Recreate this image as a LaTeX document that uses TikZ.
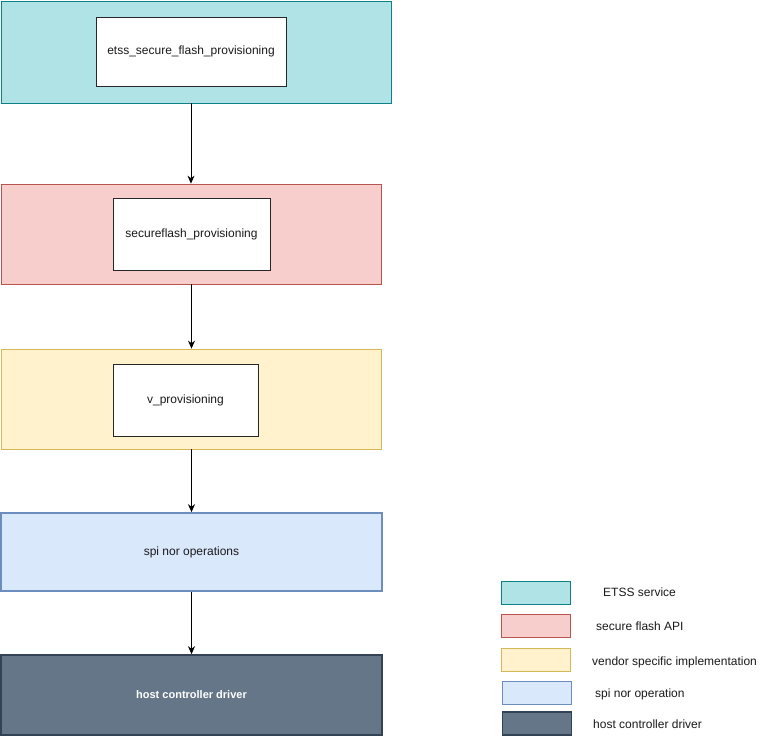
\documentclass[tikz,border=0pt]{standalone}
\usepackage{fontspec}
\setmainfont{Liberation Sans}
\usetikzlibrary{arrows.meta}
\definecolor{tealfill}{HTML}{B0E3E6}
\definecolor{tealline}{HTML}{0E8088}
\definecolor{redfill}{HTML}{F8CECC}
\definecolor{redline}{HTML}{B85450}
\definecolor{yelfill}{HTML}{FFF2CC}
\definecolor{yelline}{HTML}{D6B656}
\definecolor{bluefill}{HTML}{DAE8FC}
\definecolor{blueline}{HTML}{6C8EBF}
\definecolor{darkfill}{HTML}{647687}
\definecolor{darkline}{HTML}{314354}
\definecolor{txt}{HTML}{1A1A1A}
\tikzset{
  layer/.style={rectangle, inner sep=0pt, line width=0.8pt, text=txt,
    font=\fontsize{12}{14}\selectfont},
  func/.style={rectangle, draw=black!85, fill=white, inner sep=0pt, line width=1pt,
    text=txt, font=\fontsize{12}{14}\selectfont},
  swatch/.style={rectangle, inner sep=0pt, minimum width=69pt, minimum height=23pt, line width=1pt},
  legtext/.style={anchor=west, inner sep=0pt, text=txt, font=\fontsize{12}{14}\selectfont},
  flow/.style={-{Stealth[length=8pt,width=7pt]}, line width=0.8pt, black}
}
\begin{document}
\begin{tikzpicture}[x=1pt,y=-1pt]
\useasboundingbox (0,0) rectangle (771,736);

% stacked layers
\node[layer, draw=tealline, fill=tealfill, minimum width=390pt, minimum height=102pt] (etss) at (196,52) {};
\node[func, minimum width=190pt, minimum height=69pt] (etssfn) at (191,51.5) {etss\_secure\_flash\_provisioning};

\node[layer, draw=redline, fill=redfill, minimum width=380pt, minimum height=100pt] (api) at (191,234) {};
\node[func, minimum width=157pt, minimum height=72pt] (apifn) at (191.5,234.5) {secureflash\_provisioning};

\node[layer, draw=yelline, fill=yelfill, minimum width=380pt, minimum height=100pt] (vend) at (191,399) {};
\node[func, minimum width=145pt, minimum height=72pt] (vendfn) at (185.5,400.5) {v\_provisioning};

\node[layer, draw=blueline, fill=bluefill, line width=1.6pt, minimum width=381pt, minimum height=78pt] (spi) at (191.5,552) {spi nor operations};

\node[layer, draw=darkline, fill=darkfill, line width=1.6pt, text=white, minimum width=381pt, minimum height=80pt,
  font=\fontsize{11}{13}\selectfont\bfseries] (hcd) at (191.5,695) {host controller driver};

% calls between layers
\draw[flow] (etss.south -| etssfn.south) -- (api.north -| etssfn.south);
\draw[flow] (api.south -| apifn.south) -- (vend.north -| apifn.south);
\draw[flow] (vend.south -| apifn.south) -- (spi.north -| apifn.south);
\draw[flow] (spi.south -| apifn.south) -- (hcd.north -| apifn.south);

% legend
\node[swatch, draw=tealline, fill=tealfill] (k1) at (535.5,592.5) {};
\node[swatch, draw=redline, fill=redfill] (k2) at (535.5,625.5) {};
\node[swatch, draw=yelline, fill=yelfill] (k3) at (536,659.5) {};
\node[swatch, draw=blueline, fill=bluefill] (k4) at (536.5,692.5) {};
\node[swatch, draw=darkline, fill=darkfill, line width=1.6pt] (k5) at (537,723.5) {};

\node[legtext] (l1) at (603,592.5) {ETSS service};
\node[legtext] (l2) at (596,626.5) {secure flash API};
\node[legtext] (l3) at (592,662.5) {vendor specific implementation};
\node[legtext] (l4) at (595,694.5) {spi nor operation};
\node[legtext] (l5) at (593,724.5) {host controller driver};
\end{tikzpicture}
\end{document}
